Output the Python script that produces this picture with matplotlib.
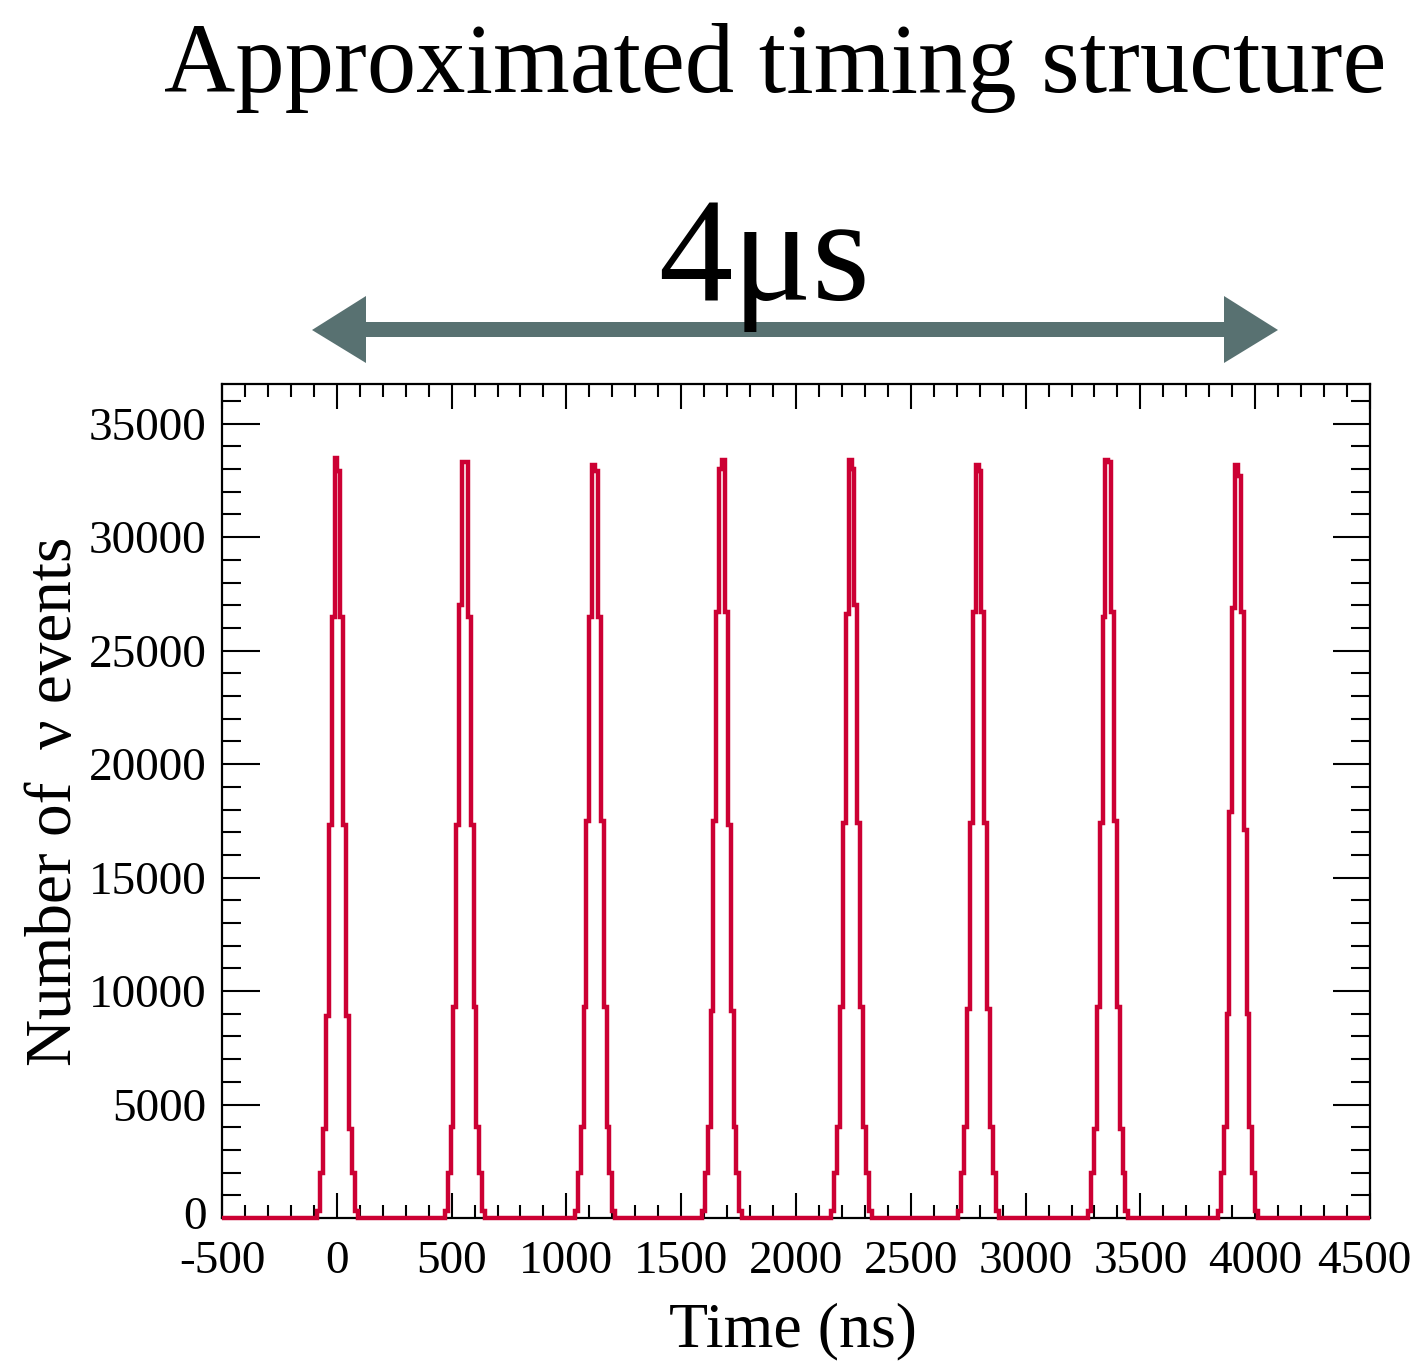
import numpy as np
import matplotlib
matplotlib.use("Agg")
from matplotlib import pyplot as plt
from matplotlib.patches import Polygon
from matplotlib.ticker import MultipleLocator
from matplotlib.transforms import ScaledTranslation

plt.rcParams["font.family"] = ["Liberation Serif", "DejaVu Serif"]

# bunch centres (ns) and bin contents, 12.5 ns bins
bin_w = 12.5
bunch_centres = [3, 558, 1125, 1678, 2242, 2795, 3360, 3925]
bunch_counts = [
    [300, 2000, 3900, 8900, 17300, 26500, 33500, 32900, 26500, 17300, 8900, 3900, 2000, 300],
    [300, 2000, 4000, 9300, 17300, 27000, 33300, 33300, 26500, 17300, 9300, 4000, 2000, 300],
    [300, 2000, 4000, 9300, 17500, 26500, 33200, 32900, 26500, 17500, 9300, 4000, 2000, 300],
    [300, 2000, 4000, 9100, 17500, 26700, 33000, 33400, 26700, 17300, 9100, 4000, 2000, 300],
    [300, 2000, 4000, 9300, 17400, 26600, 33400, 33000, 27000, 17400, 9300, 4000, 2000, 300],
    [300, 2000, 4000, 9200, 17400, 26700, 33200, 32900, 26700, 17400, 9200, 4000, 2000, 300],
    [300, 2000, 3900, 9300, 17400, 26500, 33400, 33300, 26700, 17500, 9300, 3900, 2000, 300],
    [300, 2000, 4000, 9000, 17900, 26900, 33200, 32700, 26700, 17100, 9000, 4000, 2000, 300],
]
x_ticks = [-500, 0, 500, 1000, 1500, 2000, 2500, 3000, 3500, 4000, 4500]
y_ticks = [0, 5000, 10000, 15000, 20000, 25000, 30000, 35000]

# build one histogram with empty gaps between the bunches
edges = [-500.0]
values = []
for c, counts in zip(bunch_centres, bunch_counts):
    values.append(0)
    e = c - bin_w * len(counts) / 2 + bin_w * np.arange(len(counts) + 1)
    edges.extend(e)
    values.extend(counts)
edges.append(4500.0)
values.append(0)

W, H = 1413, 1362
fig = plt.figure(figsize=(W / 100, H / 100), dpi=100)
ax = fig.add_axes([222 / W, 1 - 1218 / H, (1370 - 222) / W, (1218 - 384) / H])

ax.stairs(values, edges, color="#cc0033", linewidth=3.2, clip_on=False, zorder=3)

ax.set_xlim(-500, 4500)
ax.set_ylim(0, 36750)
ax.set_xticks(x_ticks)
ax.set_xticklabels([str(t) for t in x_ticks])
ax.set_yticks(y_ticks)
ax.set_yticklabels([str(t) for t in y_ticks])
ax.xaxis.set_minor_locator(MultipleLocator(100))
ax.yaxis.set_minor_locator(MultipleLocator(1000))
ax.tick_params(axis="both", which="both", direction="in", top=True, right=True,
               width=1.5, labelsize=34)
ax.tick_params(axis="x", which="major", length=18, pad=16)
ax.tick_params(axis="x", which="minor", length=9.5)
ax.tick_params(axis="y", which="major", length=27, pad=11)
ax.tick_params(axis="y", which="minor", length=14)
for s in ax.spines.values():
    s.set_linewidth(1.6)

# keep the last x label inside the figure edge, and lift the y "0" off "-500"
last = ax.get_xticklabels()[-1]
last.set_transform(last.get_transform() + ScaledTranslation(-6 / 100, 0, fig.dpi_scale_trans))
zero = ax.get_yticklabels()[0]
zero.set_transform(zero.get_transform() + ScaledTranslation(0, 5 / 100, fig.dpi_scale_trans))

ax.set_xlabel("Time (ns)", fontsize=46, va="center")
ax.xaxis.set_label_coords(0.497, -0.136)
ax.set_ylabel("Number of  ν events", fontsize=47, va="center")
ax.yaxis.set_label_coords(-0.145, 0.5)

fig.text(775 / W, 1 - 92 / H, "Approximated timing structure", fontsize=71,
         ha="center", va="baseline")
fig.text(764 / W, 1 - 300 / H, "4μs", fontsize=107, ha="center", va="baseline",
         zorder=5)

# double headed arrow spanning the bunch train
px = [312, 366, 366, 1224, 1224, 1278, 1224, 1224, 366, 366]
py = [330, 296, 322, 322, 296, 330, 363, 337, 337, 363]
arrow = Polygon([(x / W, 1 - y / H) for x, y in zip(px, py)], closed=True,
                transform=fig.transFigure, facecolor="#587171", edgecolor="none",
                zorder=1)
fig.patches.append(arrow)

fig.savefig("out.png", dpi=100)
